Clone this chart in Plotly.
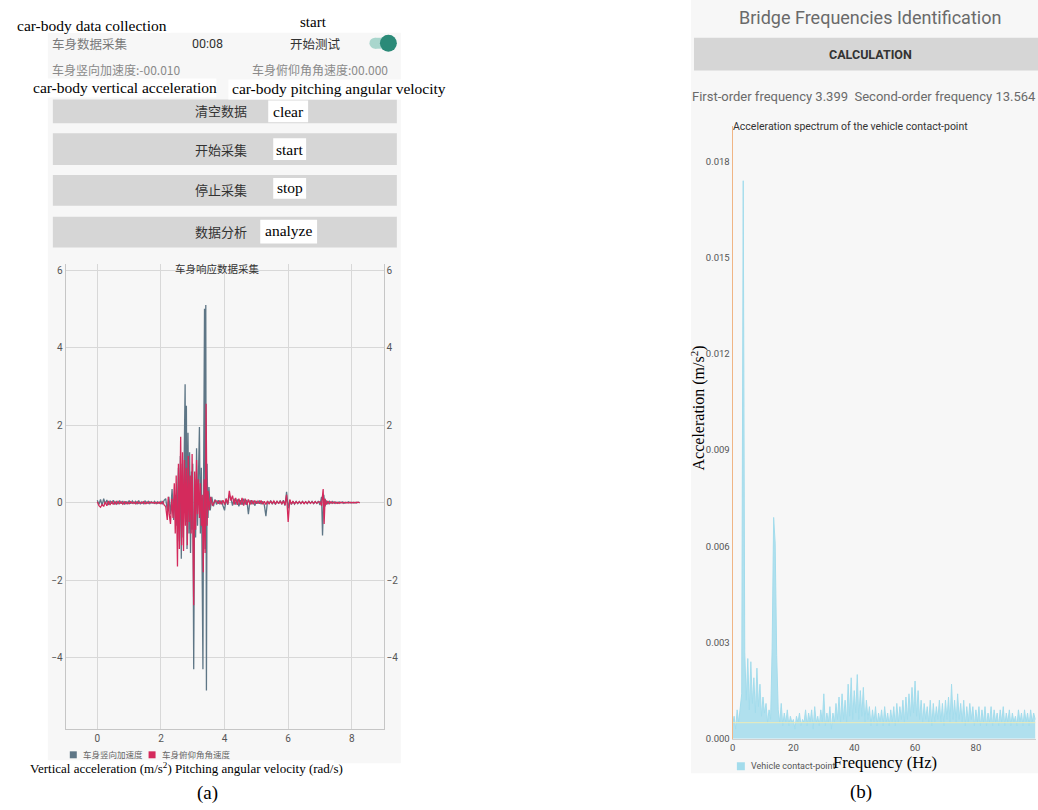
import plotly.graph_objects as go
import numpy as np

W, H = 1038, 810


def fx(p):
    return p / W


def fy(p):
    return 1 - p / H


# ---------------- Panel (a) data: car-body response ----------------
acc_t = [0.00, 0.05, 0.10, 0.15, 0.20, 0.25, 0.30, 0.35, 0.40, 0.45, 0.50, 0.55, 0.60, 0.65, 0.70, 0.75,
         0.80, 0.85, 0.90, 0.95, 1.00, 1.05, 1.10, 1.15, 1.20, 1.25, 1.30, 1.35, 1.40, 1.45, 1.50, 1.55,
         1.60, 1.65, 1.70, 1.75, 1.80, 1.85, 1.90, 1.95, 2.00, 2.05, 2.10,
         2.15, 2.20, 2.25, 2.30, 2.35, 2.40, 2.45, 2.50, 2.55, 2.58, 2.61, 2.64, 2.67, 2.70, 2.73, 2.76,
         2.78, 2.80, 2.82, 2.85, 2.88, 2.90, 2.93, 2.96, 2.98, 3.00, 3.03, 3.06, 3.09, 3.12, 3.15, 3.18,
         3.21, 3.24, 3.27, 3.30, 3.32, 3.34, 3.37, 3.39, 3.41, 3.43, 3.45, 3.48, 3.51, 3.55, 3.60, 3.65, 3.70,
         3.75, 3.80, 3.85, 3.90, 3.95, 4.00, 4.05, 4.10, 4.15, 4.20, 4.25, 4.30, 4.35, 4.40, 4.45, 4.50,
         4.55, 4.60, 4.65, 4.70, 4.75, 4.80, 4.85, 4.90, 4.95, 5.00, 5.05, 5.10, 5.15, 5.20, 5.25, 5.30,
         5.35, 5.40, 5.45, 5.50, 5.55, 5.60, 5.65, 5.70, 5.75, 5.80, 5.85, 5.90, 5.95, 6.00, 6.05, 6.10,
         6.15, 6.20, 6.25, 6.30, 6.35, 6.40, 6.45, 6.50, 6.55, 6.60, 6.65, 6.70, 6.75, 6.80, 6.85, 6.90,
         6.95, 7.00, 7.05, 7.08, 7.12, 7.16, 7.20, 7.25, 7.30, 7.35, 7.40, 7.45, 7.50, 7.55, 7.60, 7.65,
         7.70, 7.75, 7.80, 7.85, 7.90, 7.95, 8.00, 8.05, 8.10, 8.15, 8.20, 8.25]
acc_v = [0.06, -0.05, 0.08, -0.07, 0.10, -0.04, 0.07, -0.06, 0.05, -0.03, 0.06, -0.05, 0.04, -0.04, 0.05, -0.03,
         0.04, -0.05, 0.03, -0.04, 0.05, -0.03, 0.04, -0.02, 0.03, -0.04, 0.05, -0.03, 0.02, -0.03, 0.04, -0.02,
         0.03, -0.03, 0.02, -0.02, 0.03, -0.03, 0.02, -0.02, 0.03, -0.04, 0.06,
         0.10, -0.20, 0.15, -0.30, 0.35, -0.45, 0.20, -0.60, 0.90, -1.00, 1.20, -1.45, 1.00, -0.90, 2.20, 3.05,
         -0.50, 2.50, -1.20, 1.80, -0.80, 1.30, -1.30, 0.80, -0.70, 1.00, -4.30, 0.60, -0.90, 1.40, -0.60, 0.70,
         1.95, -0.80, 0.90, -2.20, -4.30, 0.50, 5.00, -1.20, 5.10, -4.85, 1.00, -0.40, 0.40, -0.20, 0.15, -0.10, 0.08,
         -0.05, 0.06, -0.04, 0.05, -0.08, -0.20, 0.10, -0.06, 0.18, 0.12, -0.08, 0.10, -0.05, 0.08, -0.10, 0.06,
         -0.06, 0.10, -0.05, 0.07, -0.30, 0.06, -0.04, 0.05, -0.08, 0.04, -0.03, 0.05, -0.04, 0.03, -0.06, -0.35,
         0.04, -0.03, 0.05, -0.04, 0.03, -0.05, 0.04, -0.03, 0.05, -0.04, 0.06, -0.08, 0.28, -0.15, 0.06, -0.05,
         0.03, -0.04, 0.03, -0.03, 0.02, -0.03, 0.03, -0.02, 0.02, -0.03, 0.03, -0.02, 0.03, -0.03, 0.02, -0.02,
         0.04, -0.06, 0.15, -0.85, 0.20, -0.10, 0.05, -0.04, 0.03, -0.02, 0.03, -0.02, 0.02, -0.02, 0.02, -0.01,
         0.02, -0.02, 0.01, -0.01, 0.02, -0.01, 0.01, -0.01, 0.01, -0.01, 0.01, 0.00]

pit_t = [0.00, 0.05, 0.10, 0.15, 0.20, 0.25, 0.30, 0.35, 0.40, 0.45, 0.50, 0.55, 0.60, 0.65, 0.70, 0.75,
         0.80, 0.85, 0.90, 0.95, 1.00, 1.05, 1.10, 1.15, 1.20, 1.25, 1.30, 1.35, 1.40, 1.45, 1.50, 1.55,
         1.60, 1.65, 1.70, 1.75, 1.80, 1.85, 1.90, 1.95, 2.00, 2.05, 2.10,
         2.15, 2.20, 2.23, 2.26, 2.30, 2.34, 2.38, 2.42, 2.45, 2.48, 2.52, 2.55, 2.58, 2.62, 2.65, 2.68,
         2.71, 2.74, 2.77, 2.80, 2.83, 2.86, 2.89, 2.92, 2.95, 2.98, 3.01, 3.03, 3.06, 3.09, 3.12, 3.15,
         3.18, 3.21, 3.24, 3.27, 3.30, 3.33, 3.36, 3.39, 3.42, 3.45, 3.48, 3.52, 3.56, 3.62, 3.70,
         3.75, 3.80, 3.85, 3.90, 3.95, 4.00, 4.05, 4.10, 4.15, 4.20, 4.25, 4.30, 4.35, 4.40, 4.45, 4.50,
         4.55, 4.60, 4.65, 4.70, 4.75, 4.80, 4.85, 4.90, 4.95, 5.00, 5.05, 5.10, 5.15, 5.20, 5.25, 5.30,
         5.35, 5.40, 5.45, 5.50, 5.55, 5.60, 5.65, 5.70, 5.75, 5.80, 5.85, 5.90, 5.95, 6.00, 6.05, 6.10,
         6.15, 6.20, 6.25, 6.30, 6.35, 6.40, 6.45, 6.50, 6.55, 6.60, 6.65, 6.70, 6.75, 6.80, 6.85, 6.90,
         6.95, 7.00, 7.05, 7.10, 7.13, 7.16, 7.20, 7.25, 7.30, 7.35, 7.40, 7.45, 7.50, 7.55, 7.60, 7.65,
         7.70, 7.75, 7.80, 7.85, 7.90, 7.95, 8.00, 8.05, 8.10, 8.15, 8.20, 8.25]
pit_v = [0.02, -0.08, -0.12, -0.05, -0.10, 0.02, -0.08, 0.04, -0.06, 0.03, -0.05, 0.02, -0.04, 0.03, -0.03, 0.02,
         -0.04, 0.02, -0.03, 0.01, -0.03, 0.02, -0.02, 0.01, -0.03, 0.02, -0.02, 0.01, -0.02, 0.02, -0.03, 0.01,
         -0.02, 0.02, -0.01, 0.01, -0.02, 0.01, -0.02, 0.01, -0.03, 0.02, -0.06,
         -0.10, -0.45, 0.15, -0.30, -0.55, 0.10, -0.40, 0.50, -0.80, 0.70, -1.65, 1.00, -1.20, 1.70, -1.10, 1.30,
         -1.25, 1.10, -0.60, 0.90, -1.10, 1.20, -0.50, 0.70, -0.80, 1.25, -0.60, -2.65, 0.80, -0.70, 1.10, -0.30,
         0.60, -0.40, 0.50, -0.60, 0.20, -1.80, 0.60, -1.30, 2.55, -0.60, 0.30, -0.20, 0.15, -0.08, 0.05,
         0.04, -0.03, 0.05, -0.04, 0.06, -0.05, 0.10, -0.04, 0.30, 0.05, 0.18, -0.05, 0.12, -0.06, 0.10, -0.05,
         0.12, -0.08, 0.10, -0.06, 0.08, -0.05, 0.06, -0.04, 0.05, -0.03, 0.04, -0.03, 0.05, -0.04, 0.03, -0.05,
         0.04, -0.03, 0.03, -0.02, 0.04, -0.03, 0.03, -0.02, 0.03, -0.03, 0.04, -0.06, 0.20, -0.50, 0.08, -0.04,
         0.03, -0.03, 0.02, -0.02, 0.03, -0.02, 0.02, -0.03, 0.02, -0.02, 0.03, -0.02, 0.02, -0.02, 0.03, -0.02,
         0.02, 0.02, -0.08, 0.35, -0.55, 0.10, -0.05, 0.04, -0.03, 0.02, -0.02, 0.02, -0.02, 0.01, -0.02, 0.01,
         -0.01, 0.01, -0.01, 0.01, -0.01, 0.01, -0.01, 0.01, -0.01, 0.01, 0.00, 0.00]

a_xticks = [0, 2, 4, 6, 8]
a_yticks = [-4, -2, 0, 2, 4, 6]

# ---------------- Panel (b) data: spectrum ----------------
freq_step_hz = 0.5
spec_amp_e4 = [  # amplitude in 1e-4 m/s^2, one value per 0.5 Hz bin from 0 Hz
    4, 7, 3, 9, 5, 10, 14, 174, 27, 12, 25, 9, 24, 11, 19, 8, 22, 10, 17, 7,
    13, 8, 11, 5, 9, 6, 28, 69, 61, 26, 9, 5, 11, 4, 8, 5, 9, 4, 7, 5,
    6, 3, 7, 5, 8, 4, 6, 5, 9, 4, 8, 5, 9, 3, 10, 5, 7, 4, 9, 5,
    14, 4, 8, 5, 10, 3, 8, 5, 11, 6, 13, 5, 14, 6, 12, 5, 17, 7, 19, 6,
    15, 8, 20, 6, 15, 7, 16, 5, 12, 6, 10, 4, 9, 5, 10, 4, 8, 5, 9, 4,
    10, 5, 8, 4, 9, 5, 10, 4, 11, 5, 10, 6, 12, 5, 13, 6, 14, 7, 16, 8,
    18, 7, 15, 6, 12, 5, 11, 6, 10, 5, 12, 4, 11, 5, 10, 6, 12, 5, 11, 4,
    12, 6, 13, 5, 17, 6, 12, 5, 14, 6, 11, 5, 12, 4, 10, 5, 11, 6, 10, 4,
    9, 5, 10, 4, 9, 5, 10, 4, 8, 5, 10, 4, 9, 5, 8, 4, 9, 5, 10, 4,
    8, 5, 9, 4, 8, 5, 7, 4, 9, 5, 8, 4, 9, 5, 8, 4, 9, 5, 8, 6]
spec_freq = [i * freq_step_hz for i in range(len(spec_amp_e4))]
spec_amp = [v * 1e-4 for v in spec_amp_e4]
spec_mean = 0.0005
b_xticks = [0, 20, 40, 60, 80]
b_yticks = [0.0, 0.003, 0.006, 0.009, 0.012, 0.015, 0.018]

# ---------------- colours / fonts ----------------
SCREEN = "#f7f7f7"
BTN = "#d6d6d6"
ACC_C = "#5e7686"
PIT_C = "#d42a5c"
SPEC_C = "#a3dcec"
CJK = "Noto Sans CJK SC"
SERIF = "Liberation Serif"
SANS = "Roboto"

fig = go.Figure()

fig.add_trace(go.Scatter(x=acc_t, y=acc_v, mode="lines", line=dict(color=ACC_C, width=1.3),
                         xaxis="x", yaxis="y", showlegend=False, hoverinfo="skip"))
fig.add_trace(go.Scatter(x=pit_t, y=pit_v, mode="lines", line=dict(color=PIT_C, width=1.3),
                         xaxis="x", yaxis="y", showlegend=False, hoverinfo="skip"))
fig.add_trace(go.Scatter(x=[0], y=[0], mode="markers", marker=dict(opacity=0),
                         xaxis="x", yaxis="y2", showlegend=False, hoverinfo="skip"))

fig.add_trace(go.Scatter(x=spec_freq, y=spec_amp, mode="lines", fill="tozeroy",
                         line=dict(color=SPEC_C, width=1), fillcolor="rgba(163,220,236,0.85)",
                         xaxis="x2", yaxis="y3", showlegend=False, hoverinfo="skip"))
fig.add_trace(go.Scatter(x=[spec_freq[0], spec_freq[-1]], y=[spec_mean, spec_mean], mode="lines",
                         line=dict(color="#ecebb8", width=1), xaxis="x2", yaxis="y3",
                         showlegend=False, hoverinfo="skip"))

shapes = []


def rect(x0, y0, x1, y1, color, layer="below", line=None):
    shapes.append(dict(type="rect", xref="paper", yref="paper", x0=fx(x0), x1=fx(x1),
                       y0=fy(y1), y1=fy(y0), fillcolor=color, layer=layer,
                       line=dict(width=0) if line is None else line))


def circ(cx, cy, r, color):
    shapes.append(dict(type="circle", xref="paper", yref="paper", x0=fx(cx - r), x1=fx(cx + r),
                       y0=fy(cy + r), y1=fy(cy - r), fillcolor=color, line=dict(width=0), layer="above"))


# screenshot backgrounds
rect(45, 33, 399, 768, SCREEN)
rect(690, 0, 1038, 778, SCREEN)
# buttons (a)
for (y0, y1) in [(100, 124), (134, 166), (176, 207), (218, 249)]:
    rect(50, y0, 395, y1, BTN)
# calculation button (b)
rect(693, 38, 1038, 71, BTN)
# white label boxes
for (x0, y0, x1, y1) in [(266, 101, 306, 123), (271, 139, 304, 161), (271, 179, 304, 200),
                         (258, 221, 315, 245), (26, 79, 214, 98), (226, 80, 446, 100),
                         (10, 14, 168, 33), (18, 765, 332, 782)]:
    rect(x0, y0, x1, y1, "white")
# toggle switch (rounded track + knob)
rect(373, 38, 387, 49, "#a9d6cd", layer="above")
circ(373, 43.5, 5.5, "#a9d6cd")
circ(386.5, 43.5, 8.5, "#2b8a78")
# legend squares
rect(67, 756, 74, 763, ACC_C, layer="above")
rect(146, 756, 153, 763, PIT_C, layer="above")
rect(736, 767, 744, 775, SPEC_C, layer="above")

annotations = []


def txt(x, y, s, size, color="#000", family=SANS, xanchor="center", yanchor="middle", angle=0):
    annotations.append(dict(xref="paper", yref="paper", x=fx(x), y=fy(y), text=s, showarrow=False,
                            xanchor=xanchor, yanchor=yanchor, textangle=angle,
                            font=dict(size=size, color=color, family=family)))


# header (a)
txt(47, 44, "车身数据采集", 12.5, "#7a7a7a", CJK, "left")
txt(205, 44, "00:08", 12.5, "#333", SANS)
txt(313, 44, "开始测试", 12.5, "#333", CJK)
txt(47, 70, "车身竖向加速度:-00.010", 12, "#8a8a8a", CJK, "left")
txt(388, 70, "车身俯仰角角速度:00.000", 12, "#8a8a8a", CJK, "right")
# button labels
txt(247, 111, "清空数据", 13, "#333", CJK, "right")
txt(247, 150, "开始采集", 13, "#333", CJK, "right")
txt(247, 191, "停止采集", 13, "#333", CJK, "right")
txt(247, 233, "数据分析", 13, "#333", CJK, "right")
# english annotations
txt(12, 26, "car-body data collection", 15.5, "#000", SERIF, "left")
txt(311, 22, "start", 15, "#000", SERIF)
txt(28, 88, "car-body vertical acceleration", 15.5, "#000", SERIF, "left")
txt(228, 89, "car-body pitching angular velocity", 15.5, "#000", SERIF, "left")
txt(286, 112, "clear", 15.5, "#000", SERIF)
txt(287, 150, "start", 15.5, "#000", SERIF)
txt(288, 189, "stop", 15.5, "#000", SERIF)
txt(286, 232, "analyze", 15.5, "#000", SERIF)
# chart (a) title and legend
txt(215, 270, "车身响应数据采集", 10.5, "#333", CJK)
txt(78, 759, "车身竖向加速度", 8.5, "#666", CJK, "left")
txt(157, 759, "车身俯仰角角速度", 8.5, "#666", CJK, "left")
txt(25, 773, "Vertical acceleration (m/s<sup>2</sup>) Pitching angular velocity (rad/s)", 13, "#000", SERIF, "left")
txt(205, 798, "(a)", 19, "#000", SERIF)

# panel (b)
txt(870, 18, "Bridge Frequencies Identification", 18, "#6a6a6a", SANS)
txt(870, 55, "<b>CALCULATION</b>", 12.5, "#333", SANS)
txt(863, 97, "First-order frequency 3.399\u00a0 Second-order frequency 13.564", 13, "#6a6a6a", SANS)
txt(850, 127, "Acceleration spectrum of the vehicle contact-point", 10.5, "#333", SANS)
txt(697, 410, "Acceleration (m/s<sup>2</sup>)", 16, "#000", SERIF, angle=-90)
txt(885, 767, "Frequency (Hz)", 16.5, "#000", SERIF)
txt(748, 771, "Vehicle contact-point", 9, "#555", SANS, "left")
txt(860, 797, "(b)", 19, "#000", SERIF)

grid_c = "#d8d8d8"
line_c = "#c6c6c6"
tick_font = dict(size=10, color="#555", family=SANS)

fig.update_layout(
    width=W, height=H, margin=dict(l=0, r=0, t=0, b=0),
    paper_bgcolor="white", plot_bgcolor=SCREEN,
    shapes=shapes, annotations=annotations, showlegend=False,
    xaxis=dict(domain=[fx(62.7), fx(381.7)], range=[-1, 9], tickvals=a_xticks, anchor="y",
               showgrid=True, gridcolor=grid_c, gridwidth=1, zeroline=False,
               showline=True, linecolor=line_c, ticks="", tickfont=tick_font, fixedrange=True),
    yaxis=dict(domain=[fy(733.85), fy(265.85)], range=[-5.85, 6.15], tickvals=a_yticks, anchor="x",
               showgrid=True, gridcolor=grid_c, gridwidth=1, zeroline=False,
               showline=True, linecolor=line_c, ticks="", tickfont=tick_font),
    yaxis2=dict(overlaying="y", side="right", anchor="x", range=[-5.85, 6.15], tickvals=a_yticks,
                showgrid=False, zeroline=False, showline=True, linecolor=line_c, ticks="",
                tickfont=tick_font),
    xaxis2=dict(domain=[fx(731.7), fx(1036)], range=[0, 99.77], tickvals=b_xticks, anchor="y3",
                showgrid=False, zeroline=False, showline=True, linecolor="#cfcfcf", ticks="",
                tickfont=dict(size=9.5, color="#555", family=SANS)),
    yaxis3=dict(domain=[fy(743.3), fy(127)], range=[0, 0.0191], tickvals=b_yticks, tickformat=".3f",
                anchor="x2", showgrid=False, zeroline=False, showline=True, linecolor="#f0b585",
                ticks="", tickfont=dict(size=9.5, color="#555", family=SANS)),
)

fig.write_html("out.html")
